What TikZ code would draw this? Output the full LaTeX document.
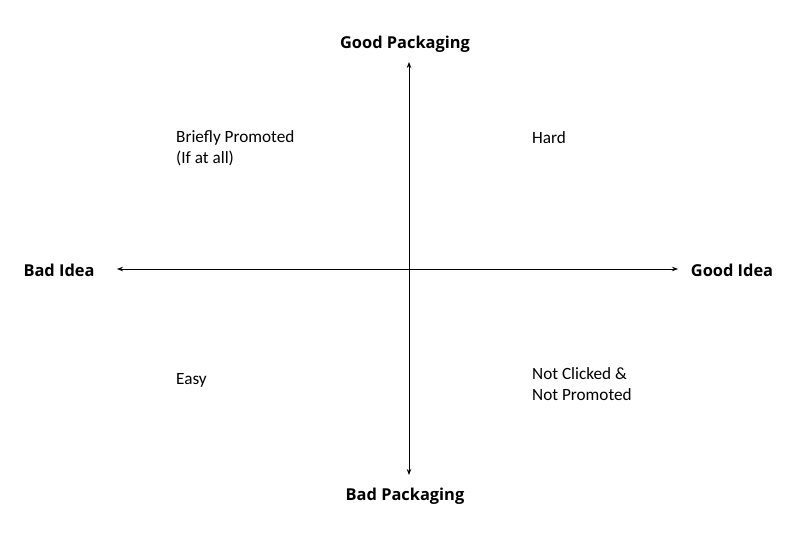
\documentclass[tikz,border=0pt]{standalone}
\usepackage{fontspec}
\setmainfont{Carlito}
\newfontfamily\axisfont{Open Sans}
\usetikzlibrary{arrows.meta}
\tikzset{
  axislabel/.style={font=\axisfont\bfseries\fontsize{16.4}{19}\selectfont, inner sep=0pt},
  quadtext/.style={font=\fontsize{17.2}{20.5}\selectfont, align=left, anchor=west, inner sep=0pt},
  axis/.style={line width=0.9pt, {Stealth[length=6pt,width=4.5pt]}-{Stealth[length=6pt,width=4.5pt]}}
}

\begin{document}
\begin{tikzpicture}[x=1pt,y=-1pt]
  \useasboundingbox (0,0) rectangle (807,540);
  \coordinate (vt) at (409,62);
  \coordinate (vb) at (409,475);
  \coordinate (hl) at (117,269);
  \coordinate (hr) at (678,269);
  \node[axislabel] (gp) at (405,44) {Good Packaging};
  \node[axislabel] (bp) at (405,496) {Bad Packaging};
  \node[axislabel] (bi) at (59,270) {Bad Idea};
  \node[axislabel] (gi) at (732,270) {Good Idea};
  \node[quadtext] (tl) at (176,148) {Briefly Promoted\\(If at all)};
  \node[quadtext] (tr) at (532,138) {Hard};
  \node[quadtext] (bl) at (176,380) {Easy};
  \node[quadtext] (br) at (532,384) {Not Clicked \&\\Not Promoted};
  \draw[axis] (vt) to (vb);
  \draw[axis] (hl) to (hr);
\end{tikzpicture}
\end{document}
